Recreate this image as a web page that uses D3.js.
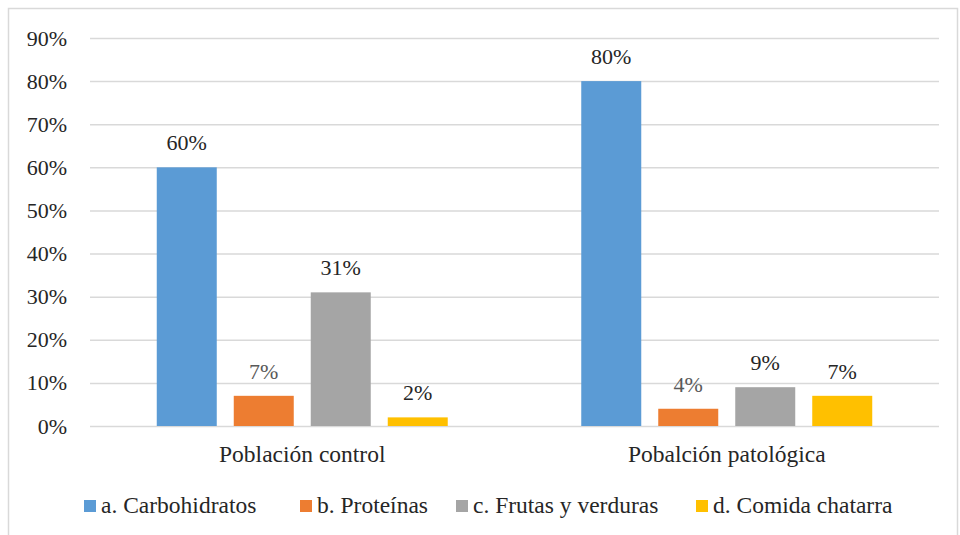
<!DOCTYPE html>
<html>
<head>
<meta charset="utf-8">
<script src="https://cdn.jsdelivr.net/npm/d3@7"></script>
<style>
  body { margin: 0; background: #fff; }
</style>
</head>
<body>
<svg id="chart" width="960" height="535"></svg>
<script>
// datos
var groups = ["Población control", "Pobalción patológica"];
var series = ["a. Carbohidratos", "b. Proteínas", "c. Frutas y verduras", "d. Comida chatarra"];
var control = [60, 7, 31, 2];
var patologica = [80, 4, 9, 7];
var yTicks = [0, 10, 20, 30, 40, 50, 60, 70, 80, 90];

var colors = ["#5B9BD5", "#ED7D31", "#A5A5A5", "#FFC000"];
var labelColors = ["#262626", "#595959", "#262626", "#262626"];
var FONT = "Liberation Serif";

var svg = d3.select("#chart");

// marco
svg.append("rect")
   .attr("x", 8.5).attr("y", 8.5)
   .attr("width", 949).attr("height", 540)
   .attr("fill", "none")
   .attr("stroke", "#d9d9d9")
   .attr("stroke-width", 1.5);

var plotL = 90, plotR = 939, plotT = 38, plotB = 426;

var x0 = d3.scaleBand().domain(groups).range([plotL, plotR]).padding(0);
var x1 = d3.scaleBand().domain(series).range([0, x0.bandwidth()])
           .paddingInner(17 / 77).paddingOuter(0.867);
var y = d3.scaleLinear().domain([0, 90]).range([plotB, plotT]);

// lineas de cuadricula
var gy = svg.append("g")
    .attr("transform", "translate(" + plotL + ",0)")
    .call(d3.axisLeft(y).tickValues(yTicks).tickSize(-(plotR - plotL))
          .tickPadding(23).tickFormat(function(d) { return d + "%"; }));
gy.attr("font-family", FONT).attr("font-size", 22);
gy.select(".domain").remove();
gy.selectAll(".tick line").attr("stroke", "#d9d9d9").attr("stroke-width", 1.5);
gy.selectAll(".tick text")
  .attr("fill", "#262626")
  .attr("font-family", FONT)
  .attr("font-size", 22);

var data = groups.map(function(g, i) {
    var vals = i === 0 ? control : patologica;
    return { group: g, values: series.map(function(s, j) { return { s: s, j: j, v: vals[j] }; }) };
});

var gg = svg.selectAll(".grp")
    .data(data)
    .enter().append("g")
    .attr("class", "grp")
    .attr("transform", function(d) { return "translate(" + x0(d.group) + ",0)"; });

gg.selectAll("rect")
  .data(function(d) { return d.values; })
  .enter().append("rect")
  .attr("x", function(d) { return x1(d.s); })
  .attr("width", x1.bandwidth())
  .attr("y", function(d) { return y(d.v); })
  .attr("height", function(d) { return plotB - y(d.v); })
  .attr("fill", function(d) { return colors[d.j]; });

gg.selectAll("text.lbl")
  .data(function(d) { return d.values; })
  .enter().append("text")
  .attr("class", "lbl")
  .attr("x", function(d) { return x1(d.s) + x1.bandwidth() / 2; })
  .attr("y", function(d) { return y(d.v) - 17; })
  .attr("text-anchor", "middle")
  .attr("font-family", FONT)
  .attr("font-size", 22)
  .attr("fill", function(d) { return labelColors[d.j]; })
  .text(function(d) { return d.v + "%"; });

// etiquetas de categoria
svg.selectAll("text.cat")
   .data(groups)
   .enter().append("text")
   .attr("class", "cat")
   .attr("x", function(d) { return x0(d) + x0.bandwidth() / 2; })
   .attr("y", 462)
   .attr("text-anchor", "middle")
   .attr("font-family", FONT)
   .attr("font-size", 23.5)
   .attr("fill", "#262626")
   .text(function(d) { return d; });

// leyenda (posiciones como en el original)
var legX = [84, 300, 456, 696];
var items = svg.append("g").selectAll("g")
   .data(series)
   .enter().append("g")
   .attr("transform", function(d, i) { return "translate(" + legX[i] + ",0)"; });
items.append("rect")
   .attr("width", 12).attr("height", 12)
   .attr("y", 500)
   .attr("fill", function(d, i) { return colors[i]; });
items.append("text")
   .attr("x", 17).attr("y", 513)
   .attr("font-family", FONT)
   .attr("font-size", 23.5)
   .attr("fill", "#262626")
   .text(function(d) { return d; });
</script>
</body>
</html>
